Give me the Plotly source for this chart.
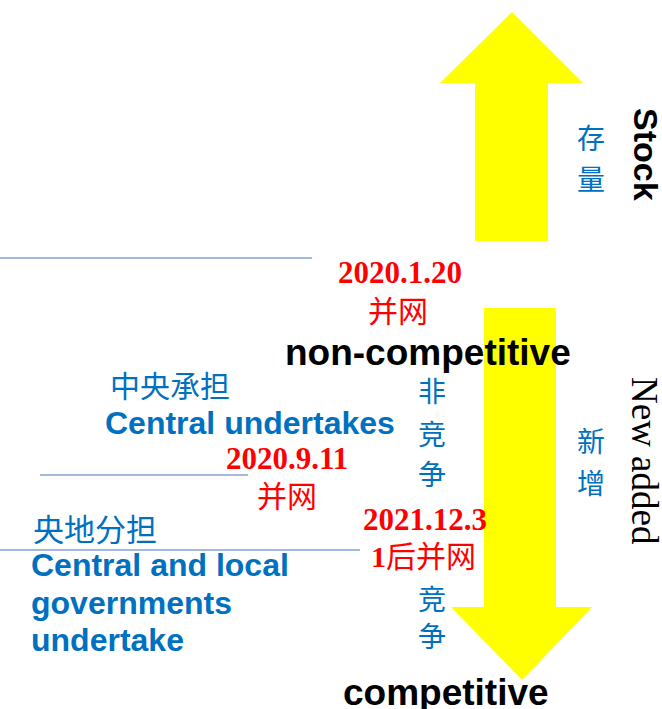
import plotly.graph_objects as go

W, H = 662, 709
BLUE = "#0070C0"
RED = "#FF0000"
YELLOW = "#FFFF00"
LINE = "#4472C4"
CJK = "Noto Sans CJK SC"
SANS = "Liberation Sans, Arial"
SERIF = "Liberation Serif, Noto Sans CJK SC"

# Arrow outlines (pixel space, y down)
up_arrow_x = [512, 583, 548, 548, 475, 475, 440]
up_arrow_y = [12, 83, 83, 241, 241, 83, 83]
down_arrow_x = [484, 556, 556, 592, 522, 451, 484]
down_arrow_y = [308, 308, 607, 607, 680, 607, 607]

# Separator lines: (x0, x1, y)
sep_x0 = [0, 40, 0]
sep_x1 = [312, 248, 360]
sep_y = [258, 475, 550]

# Horizontal labels
label_text = ["<b>2020.1.20</b>", "并网", "<b>non-competitive</b>", "中央承担",
              "<b>Central undertakes</b>", "<b>2020.9.11</b>", "并网", "央地分担",
              "<b>2021.12.3</b>", "<b>1</b>后并网", "<b>competitive</b>"]
label_x = [400, 398, 428, 170, 250, 287, 287, 95, 425, 423, 446]
label_y = [272, 309, 352, 384, 423, 458, 494, 527, 519, 556, 692]
label_color = [RED, RED, "black", BLUE, BLUE, RED, RED, BLUE, RED, RED, "black"]
label_font = [SERIF, CJK, SANS, CJK, SANS, SERIF, CJK, CJK, SERIF, SERIF, SANS]
label_size = [31, 30, 37, 30, 32, 31, 30, 31, 31, 30, 37]

# Left-aligned multi-line label
multi_lines = ["Central and local", "governments", "undertake"]
multi_x = 29
multi_y = [565, 603, 640]

# Vertical CJK labels (one char per row)
vert_text = ["非竞争", "竞争", "新增", "存量"]
vert_x = [432, 432, 591, 591]
vert_y = [[390, 433, 473], [598, 635], [440, 482], [137, 178]]

# Rotated labels
rot_text = ["<b>Stock</b>", "New added"]
rot_x = [646, 645]
rot_y = [154, 461]
rot_font = [SANS, "Liberation Serif"]
rot_size = [34, 37]

fig = go.Figure()

def path(xs, ys):
    return "M " + " L ".join(f"{x},{y}" for x, y in zip(xs, ys)) + " Z"

shapes = [
    dict(type="path", path=path(up_arrow_x, up_arrow_y), fillcolor=YELLOW,
         line=dict(width=0), xref="x", yref="y", layer="below"),
    dict(type="path", path=path(down_arrow_x, down_arrow_y), fillcolor=YELLOW,
         line=dict(width=0), xref="x", yref="y", layer="below"),
]
for x0, x1, y in zip(sep_x0, sep_x1, sep_y):
    shapes.append(dict(type="line", x0=x0, x1=x1, y0=y, y1=y, xref="x", yref="y",
                       line=dict(color=LINE, width=1.2)))

ann = []
for t, x, y, c, f, s in zip(label_text, label_x, label_y, label_color,
                            label_font, label_size):
    ann.append(dict(x=x, y=y, text=t, showarrow=False,
                    xanchor="center", yanchor="middle",
                    font=dict(family=f, size=s, color=c)))
for t, y in zip(multi_lines, multi_y):
    ann.append(dict(x=multi_x, y=y, text=f"<b>{t}</b>", showarrow=False,
                    xanchor="left", yanchor="middle",
                    font=dict(family=SANS, size=32, color=BLUE)))
for t, x, ys in zip(vert_text, vert_x, vert_y):
    for ch, y in zip(t, ys):
        ann.append(dict(x=x, y=y, text=ch, showarrow=False,
                        xanchor="center", yanchor="middle",
                        font=dict(family=CJK, size=28, color=BLUE)))
for t, x, y, f, s in zip(rot_text, rot_x, rot_y, rot_font, rot_size):
    ann.append(dict(x=x, y=y, text=t, showarrow=False,
                    textangle=90, xanchor="center", yanchor="middle",
                    font=dict(family=f, size=s, color="black")))

fig.update_layout(
    width=W, height=H,
    margin=dict(l=0, r=0, t=0, b=0),
    paper_bgcolor="white", plot_bgcolor="white",
    xaxis=dict(range=[0, W], visible=False, fixedrange=True),
    yaxis=dict(range=[H, 0], visible=False, fixedrange=True),
    shapes=shapes, annotations=ann, showlegend=False,
)

fig.write_html("out.html",
               config={"displayModeBar": False, "staticPlot": True},
               post_script="document.body.style.margin='0';document.body.style.overflow='hidden';")
